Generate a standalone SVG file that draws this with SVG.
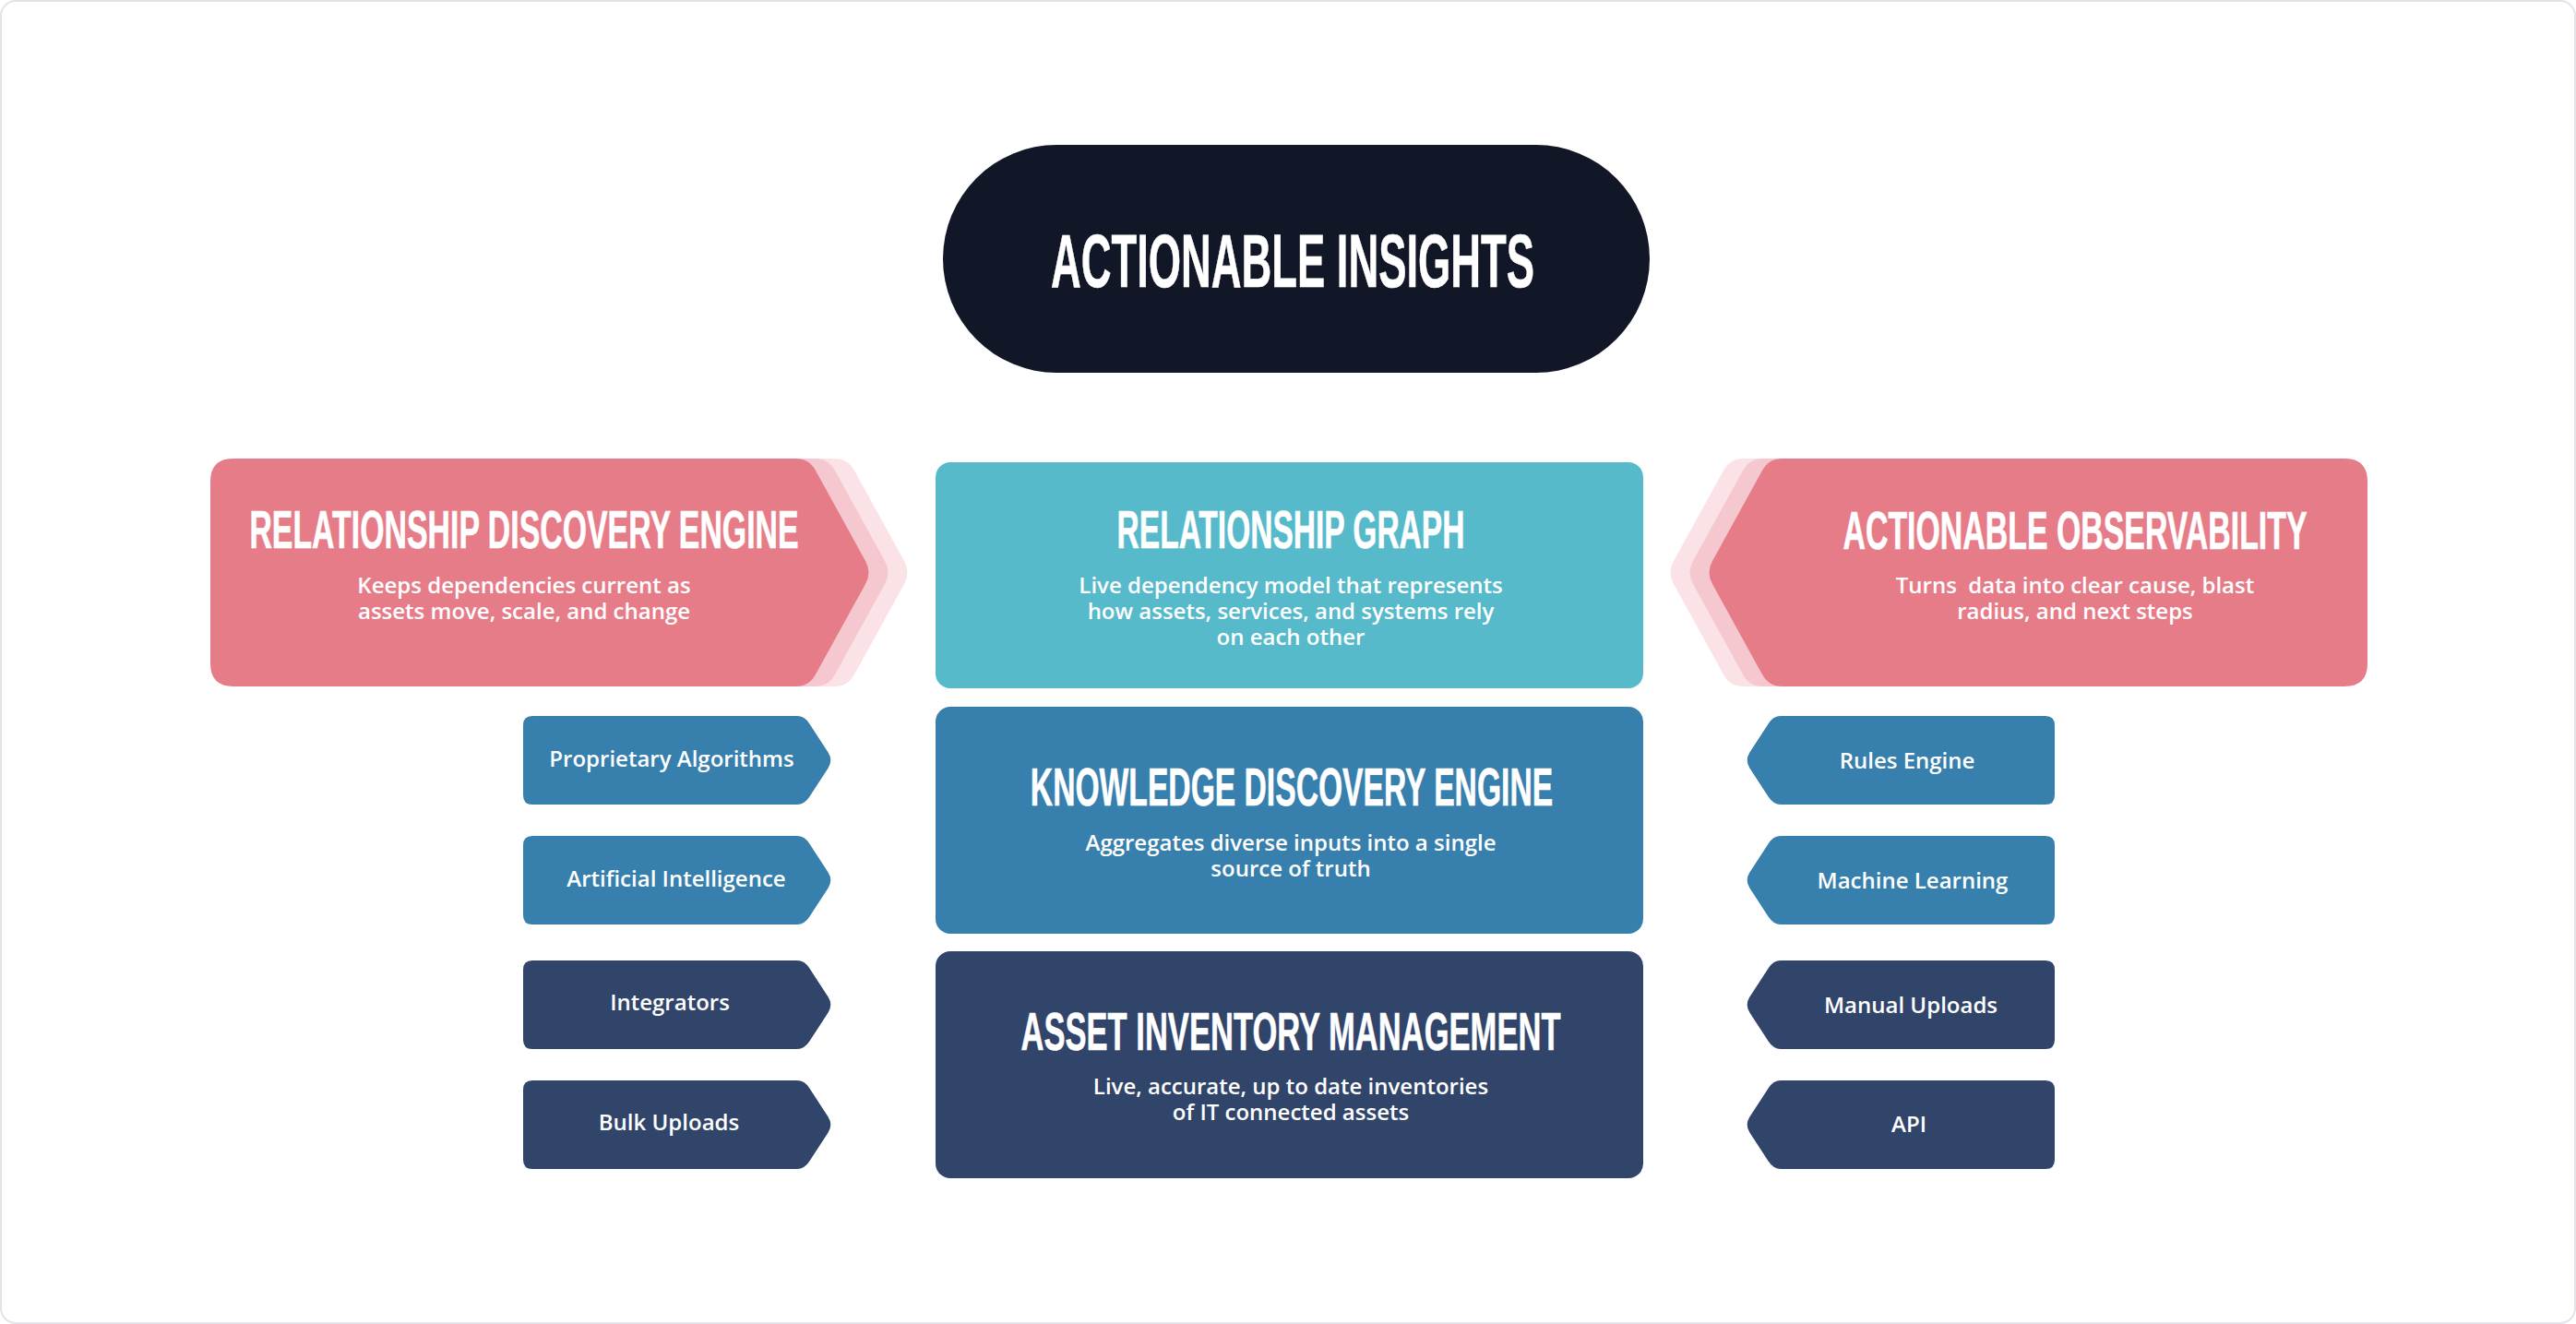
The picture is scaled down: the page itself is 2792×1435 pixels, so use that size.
<svg xmlns="http://www.w3.org/2000/svg" width="2792" height="1435" viewBox="0 0 2792 1435">
<style>
.bg{fill:#ffffff;stroke:#e3e3ea;stroke-width:2}
.ttl{font-family:"Liberation Sans","DejaVu Sans",sans-serif;font-weight:700;fill:#ffffff;stroke:#ffffff;stroke-width:0.6;text-anchor:middle}
.big{font-size:81px}
.h{font-size:58px}
.sub{font-family:"Open Sans","Liberation Sans",sans-serif;font-weight:600;font-size:24px;fill:#ffffff;text-anchor:middle;white-space:pre}
.lbl{font-family:"Open Sans","Liberation Sans",sans-serif;font-weight:600;font-size:24px;fill:#ffffff;text-anchor:middle}
.pink{fill:#e77c89}
.g1{fill:#f5c8cf}
.g2{fill:#fae2e6}
.teal{fill:#56bacb}
.blue{fill:#3780ad}
.navy{fill:#31456b}
.dark{fill:#111726}
</style>
<defs>
<path id="pinkL" d="M253 497 H862 Q877 497 884 510 L938 608 Q945 620.5 938 633 L884 731 Q877 744 862 744 H253 Q228 744 228 719 V522 Q228 497 253 497 Z"/>
<path id="pinkR" d="M2541 497 H1932 Q1917 497 1910 510 L1856 608 Q1849 620.5 1856 633 L1910 731 Q1917 744 1932 744 H2541 Q2566 744 2566 719 V522 Q2566 497 2541 497 Z"/>
<path id="chevL" d="M577 776 H864 Q872 776 877.4 784.4 L897.6 815.6 Q903 824 897.6 832.4 L877.4 863.6 Q872 872 864 872 H577 Q567 872 567 862 V786 Q567 776 577 776 Z"/>
<path id="chevR" d="M2217 776 H1930 Q1922 776 1916.6 784.4 L1896.4 815.6 Q1891 824 1896.4 832.4 L1916.6 863.6 Q1922 872 1930 872 H2217 Q2227 872 2227 862 V786 Q2227 776 2217 776 Z"/>
</defs>
<rect class="bg" x="1" y="1" width="2790" height="1433" rx="16"/>

<g id="actionable-insights">
<rect class="dark" x="1022" y="157" width="766" height="247" rx="123.5"/>
<text class="ttl big" transform="translate(1401 311) scale(0.56 1)">ACTIONABLE INSIGHTS</text>
</g>

<g id="relationship-discovery-engine">
<use href="#pinkL" class="g2" transform="translate(42,0)"/>
<use href="#pinkL" class="g1" transform="translate(21,0)"/>
<use href="#pinkL" class="pink"/>
<text class="ttl h" transform="translate(568 594) scale(0.584 1)">RELATIONSHIP DISCOVERY ENGINE</text>
<text class="sub" x="568" y="643">Keeps dependencies current as</text>
<text class="sub" x="568" y="671">assets move, scale, and change</text>
</g>

<g id="relationship-graph">
<rect class="teal" x="1014" y="501" width="767" height="245" rx="16"/>
<text class="ttl h" transform="translate(1399 594) scale(0.578 1)">RELATIONSHIP GRAPH</text>
<text class="sub" x="1399" y="643">Live dependency model that represents</text>
<text class="sub" x="1399" y="671">how assets, services, and systems rely</text>
<text class="sub" x="1399" y="699">on each other</text>
</g>

<g id="actionable-observability">
<use href="#pinkR" class="g2" transform="translate(-42,0)"/>
<use href="#pinkR" class="g1" transform="translate(-21,0)"/>
<use href="#pinkR" class="pink"/>
<text class="ttl h" transform="translate(2249 595) scale(0.584 1)">ACTIONABLE OBSERVABILITY</text>
<text class="sub" x="2249" y="643">Turns  data into clear cause, blast</text>
<text class="sub" x="2249" y="671">radius, and next steps</text>
</g>

<g id="knowledge-discovery-engine">
<rect class="blue" x="1014" y="766" width="767" height="246" rx="16"/>
<text class="ttl h" transform="translate(1400 873) scale(0.58 1)">KNOWLEDGE DISCOVERY ENGINE</text>
<text class="sub" x="1399" y="922">Aggregates diverse inputs into a single</text>
<text class="sub" x="1399" y="950">source of truth</text>
</g>

<g id="asset-inventory-management">
<rect class="navy" x="1014" y="1031" width="767" height="246" rx="16"/>
<text class="ttl h" transform="translate(1399 1138) scale(0.596 1)">ASSET INVENTORY MANAGEMENT</text>
<text class="sub" x="1399" y="1186">Live, accurate, up to date inventories</text>
<text class="sub" x="1399" y="1214">of IT connected assets</text>
</g>

<g id="proprietary-algorithms">
<use href="#chevL" class="blue"/>
<text class="lbl" x="728" y="831">Proprietary Algorithms</text>
</g>
<g id="artificial-intelligence">
<use href="#chevL" class="blue" transform="translate(0,130)"/>
<text class="lbl" x="733" y="961">Artificial Intelligence</text>
</g>
<g id="integrators">
<use href="#chevL" class="navy" transform="translate(0,265)"/>
<text class="lbl" x="726" y="1095">Integrators</text>
</g>
<g id="bulk-uploads">
<use href="#chevL" class="navy" transform="translate(0,395)"/>
<text class="lbl" x="725" y="1225">Bulk Uploads</text>
</g>

<g id="rules-engine">
<use href="#chevR" class="blue"/>
<text class="lbl" x="2067" y="833">Rules Engine</text>
</g>
<g id="machine-learning">
<use href="#chevR" class="blue" transform="translate(0,130)"/>
<text class="lbl" x="2073" y="963">Machine Learning</text>
</g>
<g id="manual-uploads">
<use href="#chevR" class="navy" transform="translate(0,265)"/>
<text class="lbl" x="2071" y="1098">Manual Uploads</text>
</g>
<g id="api">
<use href="#chevR" class="navy" transform="translate(0,395)"/>
<text class="lbl" x="2069" y="1227">API</text>
</g>

<g id="connectors"></g>
</svg>
